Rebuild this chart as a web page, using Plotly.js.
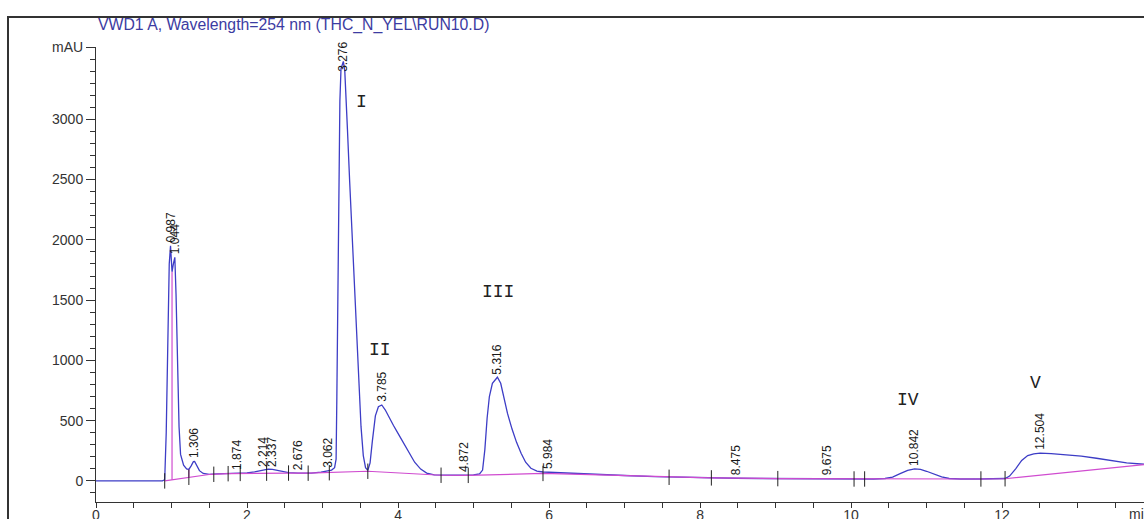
<!DOCTYPE html>
<html>
<head>
<meta charset="utf-8">
<script src="https://cdn.plot.ly/plotly-3.0.1.min.js"></script>
<style>
  html, body { margin: 0; padding: 0; background: #fff; }
  #chart { width: 1144px; height: 519px; }
</style>
</head>
<body>
<div id="chart"></div>
<script>
// Detector signal, VWD1 A at 254 nm: retention time (min) and absorbance (mAU)
const time = [
  0.00, 0.50, 0.88, 0.91, 0.93, 0.95, 0.97, 0.987, 1.007, 1.025, 1.044, 1.06, 1.08, 1.10, 1.12,
  1.16, 1.20, 1.23, 1.26, 1.29, 1.306, 1.33, 1.37, 1.42, 1.50, 1.60, 1.75, 1.874, 2.00, 2.10,
  2.214, 2.28, 2.337, 2.42, 2.55, 2.676, 2.85, 2.98, 3.062, 3.12, 3.16, 3.18, 3.19, 3.20, 3.21,
  3.22, 3.23, 3.245, 3.276, 3.295, 3.31, 3.33, 3.36, 3.40, 3.44, 3.48, 3.51, 3.54, 3.57, 3.60,
  3.63, 3.66, 3.70, 3.74, 3.785, 3.83, 3.88, 3.94, 4.00, 4.07, 4.14, 4.22, 4.30, 4.38, 4.48,
  4.60, 4.75, 4.872, 5.00, 5.08, 5.12, 5.15, 5.18, 5.21, 5.25, 5.316, 5.36, 5.40, 5.45, 5.51,
  5.57, 5.63, 5.69, 5.76, 5.84, 5.92, 5.984, 6.10, 6.30, 6.60, 7.00, 7.40, 7.80, 8.20, 8.475,
  8.80, 9.20, 9.675, 10.00, 10.30, 10.45, 10.55, 10.65, 10.75, 10.842, 10.92, 11.00, 11.10, 11.20, 11.30,
  11.45, 11.70, 11.95, 12.04, 12.10, 12.18, 12.26, 12.34, 12.42, 12.504, 12.65, 12.85, 13.05, 13.25, 13.45,
  13.65, 13.88
];
const signal = [
  0, 0, 0, 10, 400, 1100, 1800, 1950, 1735, 1800, 1855, 1550, 1000, 450, 220,
  130, 100, 95, 125, 160, 162, 130, 85, 62, 55, 58, 60, 62, 66, 75,
  92, 97, 95, 82, 68, 64, 64, 72, 85, 90, 110, 180, 700, 1350, 2000,
  2650, 3150, 3420, 3480, 3400, 3220, 2920, 2480, 1950, 1400, 850, 450, 210, 110, 88,
  150, 330, 540, 615, 630, 590, 525, 460, 395, 315, 235, 155, 98, 65, 50,
  48, 46, 47, 50, 58, 90, 260, 520, 700, 810, 860, 810, 690, 560, 430,
  320, 230, 155, 105, 82, 74, 72, 70, 64, 55, 45, 35, 28, 24, 22,
  20, 18, 17, 16, 16, 20, 32, 60, 88, 100, 95, 80, 55, 33, 20,
  16, 16, 17, 20, 40, 100, 170, 210, 225, 230, 226, 218, 205, 188, 168,
  150, 138
];

// Integration baseline
const baseTime = [0.91, 1.007, 1.23, 1.52, 1.75, 1.91, 2.26, 2.55, 2.81, 3.09, 3.60, 4.57, 4.93, 5.92, 7.59, 8.15, 9.03, 10.04, 10.18, 11.72, 12.04, 13.88];
const baseVal  = [0,    9,     30,   55,   60,   62,   64,   65,   64,   68,   80,   47,   46,   62,   30,   25,   19,   16,    16,    16,    18,    135];

// Drop lines from the baseline up to the signal at split points
const dropTime = [1.007, 1.23];
const dropBase = [9, 30];

// Peak start / end event marks
const eventTime = [0.91, 1.23, 1.56, 1.75, 1.91, 2.26, 2.55, 2.81, 3.09, 3.60, 4.57, 4.93, 5.92, 7.59, 8.15, 9.03, 10.04, 10.18, 11.72, 12.04];
const eventVal  = [0,    30,   55,   60,   62,   64,   65,   64,   68,   80,   47,   46,   62,   30,   25,   19,   16,    16,    16,    18];

// Retention times that get a label
const peakTimes = [0.987, 1.044, 1.306, 1.874, 2.214, 2.337, 2.676, 3.062, 3.276, 3.785, 4.872, 5.316, 5.984, 8.475, 9.675, 10.842, 12.504];

// Compound numerals
const romanText = ['I', 'II', 'III', 'IV', 'V'];
const romanX = [3.52, 3.76, 5.32, 10.75, 12.44];
const romanY = [3140, 1088, 1570, 673, 814];

const yTickVals = [0, 500, 1000, 1500, 2000, 2500, 3000, 3600];
const yTickText = ['0', '500', '1000', '1500', '2000', '2500', '3000', 'mAU'];
const xTickVals = [0, 2, 4, 6, 8, 10, 12];

const sans = 'Liberation Sans, Arial, Helvetica, sans-serif';
const axisColor = '#333';

function signalAt(t) {
  const i = time.indexOf(t);
  return signal[i];
}

const dropX = [], dropY = [];
dropTime.forEach((t, i) => {
  dropX.push(t, t, null);
  dropY.push(dropBase[i], signalAt(t), null);
});

const traces = [
  {
    x: time, y: signal, type: 'scatter', mode: 'lines',
    line: { color: '#3d3dc6', width: 1.3 }, hoverinfo: 'skip'
  },
  {
    x: baseTime, y: baseVal, type: 'scatter', mode: 'lines',
    line: { color: '#d04cd0', width: 1.2 }, hoverinfo: 'skip'
  },
  {
    x: dropX, y: dropY, type: 'scatter', mode: 'lines',
    line: { color: '#d04cd0', width: 1.2 }, hoverinfo: 'skip'
  },
  {
    x: eventTime, y: eventVal, type: 'scatter', mode: 'markers',
    marker: { symbol: 'line-ns-open', size: 11, color: '#222', line: { color: '#222', width: 1 } },
    hoverinfo: 'skip'
  }
];

const annotations = [];
peakTimes.forEach(t => {
  annotations.push({
    x: t, y: signalAt(t), xref: 'x', yref: 'y',
    text: t.toFixed(3), showarrow: false, textangle: -90,
    xanchor: 'center', yanchor: 'bottom',
    yshift: t === 3.276 ? -10 : 3,
    borderpad: 0, borderwidth: 0,
    font: { family: sans, size: 12, color: '#1a1a1a' }
  });
});
romanText.forEach((s, i) => {
  annotations.push({
    x: romanX[i], y: romanY[i], xref: 'x', yref: 'y',
    text: s, showarrow: false, xanchor: 'center', yanchor: 'middle',
    font: { family: 'Liberation Mono, Courier New, monospace', size: 18, color: '#222' }
  });
});
annotations.push({
  x: (1140 - 96) / 1048, y: -(514 - 502) / 455, xref: 'paper', yref: 'paper',
  text: 'min', showarrow: false, xanchor: 'center', yanchor: 'middle',
  font: { family: sans, size: 14, color: axisColor }
});

const layout = {
  width: 1144, height: 519,
  margin: { l: 96, r: 0, t: 47, b: 17, pad: 0 },
  paper_bgcolor: '#fff', plot_bgcolor: '#fff',
  showlegend: false,
  title: {
    text: 'VWD1 A, Wavelength=254 nm (THC_N_YEL\\RUN10.D)',
    x: 98 / 1144, xanchor: 'left', xref: 'container',
    y: 1 - 24 / 519, yanchor: 'middle', yref: 'container',
    font: { family: sans, size: 15.8, color: '#3c3ca2' }
  },
  xaxis: {
    range: [0, 13.88], tickmode: 'array', tickvals: xTickVals,
    ticks: 'outside', ticklen: 5, tickwidth: 1, tickcolor: axisColor,
    ticklabelstandoff: -5,
    showline: true, linecolor: axisColor, linewidth: 1,
    showgrid: false, zeroline: false,
    minor: { tickmode: 'linear', tick0: 0, dtick: 0.5, ticks: 'outside', ticklen: 5, tickcolor: axisColor, showgrid: false },
    tickfont: { family: sans, size: 14, color: axisColor }
  },
  yaxis: {
    range: [-175, 3600], tickmode: 'array', tickvals: yTickVals, ticktext: yTickText,
    ticks: 'outside', ticklen: 9, tickwidth: 1, tickcolor: axisColor,
    showline: true, linecolor: axisColor, linewidth: 1,
    showgrid: false, zeroline: false,
    minor: { tickmode: 'linear', tick0: 0, dtick: 100, ticks: 'outside', ticklen: 5, tickcolor: axisColor, showgrid: false },
    tickfont: { family: sans, size: 14, color: axisColor }
  },
  shapes: [{
    type: 'rect', xref: 'paper', yref: 'paper',
    x0: (8 - 96) / 1048, x1: 1.2, y0: -0.3, y1: 1 + (47 - 17) / 455,
    line: { color: '#333', width: 2 }, fillcolor: 'rgba(0,0,0,0)'
  }],
  annotations: annotations
};

Plotly.newPlot('chart', traces, layout, { staticPlot: true, displayModeBar: false });
</script>
</body>
</html>
